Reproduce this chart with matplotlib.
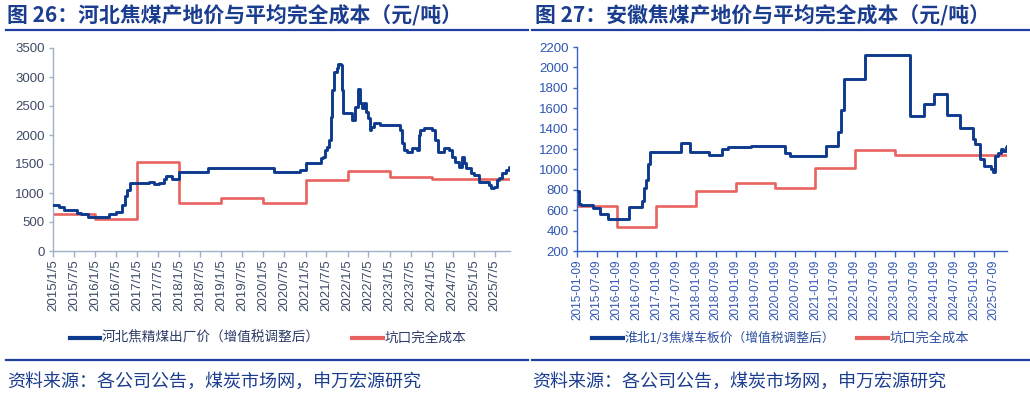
import matplotlib
matplotlib.use("Agg")
import matplotlib.pyplot as plt
from matplotlib.lines import Line2D
import pandas as pd

plt.rcParams['font.family'] = ['Noto Sans CJK SC', 'DejaVu Sans']

# ---------------- data ----------------
hb_price_dates = ['2015-01-05', '2015-03-01', '2015-04-10', '2015-08-05', '2015-09-05', '2015-11-01',
                  '2016-05-08', '2016-07-08', '2016-08-28', '2016-09-24', '2016-10-12', '2016-11-01',
                  '2017-04-20', '2017-06-01', '2017-07-15', '2017-08-28', '2017-09-15', '2017-10-30',
                  '2018-01-05', '2018-09-10', '2020-04-10', '2020-11-15', '2021-01-10', '2021-05-20',
                  '2021-06-05', '2021-06-20', '2021-07-12', '2021-07-30', '2021-08-10', '2021-08-22',
                  '2021-09-10', '2021-10-01', '2021-10-15', '2021-11-05', '2021-11-13', '2021-11-28',
                  '2022-02-10', '2022-03-10', '2022-04-08', '2022-04-22', '2022-05-12', '2022-05-30',
                  '2022-06-14', '2022-06-28', '2022-07-16', '2022-07-30', '2022-08-25', '2022-10-12',
                  '2023-04-05', '2023-04-20', '2023-05-05', '2023-06-03', '2023-07-16', '2023-08-30',
                  '2023-09-12', '2023-09-28', '2023-10-27', '2024-01-08', '2024-02-06', '2024-02-28',
                  '2024-04-20', '2024-06-03', '2024-07-01', '2024-07-27', '2024-08-28', '2024-09-20',
                  '2024-10-12', '2024-10-30', '2024-12-10', '2025-01-08', '2025-02-14', '2025-05-15',
                  '2025-05-30', '2025-06-28', '2025-07-20', '2025-08-11', '2025-09-09', '2025-10-08',
                  '2025-11-03', '2025-11-12']
hb_price_values = [800, 765, 710, 660, 630, 580,
                   640, 680, 800, 940, 1060, 1170,
                   1195, 1150, 1177, 1240, 1293, 1236,
                   1367, 1431, 1368, 1400, 1511, 1597,
                   1626, 1741, 1800, 1914, 2315, 2776,
                   3092, 3150, 3218, 3210, 2776, 2373,
                   2258, 2488, 2787, 2545, 2460, 2545,
                   2402, 2287, 2086, 2143, 2212, 2172,
                   2086, 1856, 1741, 1712, 1770, 1750,
                   1996, 2086, 2126, 2086, 1914, 1712,
                   1770, 1741, 1626, 1540, 1453, 1626,
                   1511, 1425, 1339, 1310, 1195, 1138,
                   1080, 1109, 1224, 1253, 1350, 1396,
                   1453, 1453]

hb_cost_dates = ['2015-01-05', '2016-01-05', '2017-01-05', '2018-01-05', '2019-01-05', '2020-01-05',
                 '2021-01-05', '2022-01-05', '2023-01-05', '2024-01-05', '2025-11-12']
hb_cost_values = [630, 555, 1540, 835, 920, 835, 1218, 1382, 1284, 1238, 1238]

ah_price_dates = ['2015-01-09', '2015-01-25', '2015-02-18', '2015-06-02', '2015-08-10', '2015-10-20',
                  '2016-05-01', '2016-08-28', '2016-09-12', '2016-10-01', '2016-10-23', '2016-11-07',
                  '2017-08-25', '2017-11-10', '2018-05-05', '2018-09-01', '2018-11-02', '2019-05-30',
                  '2020-04-08', '2020-05-22', '2021-04-20', '2021-08-08', '2021-08-30', '2021-10-05',
                  '2022-04-08', '2023-06-02', '2023-10-04', '2024-01-05', '2024-05-01', '2024-08-29',
                  '2025-01-01', '2025-01-16', '2025-03-04', '2025-04-09', '2025-06-17', '2025-07-02',
                  '2025-07-20', '2025-08-18', '2025-09-17', '2025-10-05', '2025-10-28', '2025-11-08']
ah_price_values = [790, 660, 650, 625, 560, 510,
                   630, 690, 820, 900, 1050, 1170,
                   1255, 1170, 1143, 1200, 1215, 1234,
                   1160, 1136, 1234, 1370, 1580, 1886,
                   2125, 1525, 1643, 1741, 1530, 1401,
                   1300, 1250, 1100, 1035, 1000, 970,
                   1130, 1160, 1200, 1180, 1215, 1225]

ah_cost_dates = ['2015-01-09', '2016-01-09', '2017-01-09', '2018-01-09', '2019-01-09', '2020-01-09',
                 '2021-01-09', '2022-01-09', '2023-01-09', '2025-11-08']
ah_cost_values = [640, 440, 640, 789, 864, 815, 1018, 1192, 1146, 1146]

tick_years = list(range(2015, 2026))
tick_months = [1, 7]
hb_ticks = [pd.Timestamp(y, m, 5) for y in tick_years for m in tick_months]
hb_tick_labels = [f"{d.year}/{d.month}/5" for d in hb_ticks]
ah_ticks = [pd.Timestamp(y, m, 9) for y in tick_years for m in tick_months]
ah_tick_labels = [d.strftime('%Y-%m-%d') for d in ah_ticks]

title_left = '图 26：河北焦煤产地价与平均完全成本（元/吨）'
title_right = '图 27：安徽焦煤产地价与平均完全成本（元/吨）'
source = '资料来源：各公司公告，煤炭市场网，申万宏源研究'
leg_left = ['河北焦精煤出厂价（增值税调整后）', '坑口完全成本']
leg_right = ['淮北1/3焦煤车板价（增值税调整后）', '坑口完全成本']

# ---------------- styling ----------------
W, H = 1030, 396
BLUE = '#0E3A8E'
RED = '#E8625F'
TITLE_C = '#1B3D8F'

fig = plt.figure(figsize=(W / 100, H / 100), dpi=100)
fig.patch.set_facecolor('white')


def fx(px):
    return px / W


def fy(py):
    return 1 - py / H


ax1 = fig.add_axes([fx(53), fy(251), fx(510 - 53), (251 - 48) / H])
ax2 = fig.add_axes([fx(577), fy(251), fx(1007 - 577), (251 - 47) / H])


def setup(ax, spine_c, lab_c, ticks, labels, ylim, ystep, xlim, xfs, yfs):
    for s in ['top', 'right']:
        ax.spines[s].set_visible(False)
    for s in ['left', 'bottom']:
        ax.spines[s].set_color(spine_c)
        ax.spines[s].set_linewidth(1.0)
    ax.set_ylim(*ylim)
    ax.set_yticks(range(ylim[0], ylim[1] + 1, ystep))
    ax.set_xlim(pd.Timestamp(xlim[0]), pd.Timestamp(xlim[1]))
    ax.set_xticks(ticks)
    ax.set_xticklabels(labels, rotation=90, fontsize=xfs, color=lab_c, family='Liberation Sans')
    for t in ax.get_yticklabels():
        t.set_fontsize(yfs)
        t.set_color(lab_c)
        t.set_family('Liberation Sans')
    ax.tick_params(axis='x', length=4, width=1, color=spine_c, pad=2)
    ax.tick_params(axis='y', length=3, width=1, color=spine_c, pad=3)
    ax.set_facecolor('white')


setup(ax1, '#9FB0CA', '#3E4A66', hb_ticks, hb_tick_labels, (0, 3500), 500,
      ('2015-01-05', '2025-11-14'), 9.5, 9.5)
setup(ax2, '#3A62C8', '#2F56B4', ah_ticks, ah_tick_labels, (200, 2200), 200,
      ('2015-01-09', '2025-11-08'), 8.5, 9.5)

ax1.step(pd.to_datetime(hb_price_dates), hb_price_values, where='post', color=BLUE, lw=2.1, zorder=3)
ax1.step(pd.to_datetime(hb_cost_dates), hb_cost_values, where='post', color=RED, lw=1.9, zorder=2)
ax2.step(pd.to_datetime(ah_price_dates), ah_price_values, where='post', color=BLUE, lw=2.1, zorder=3)
ax2.step(pd.to_datetime(ah_cost_dates), ah_cost_values, where='post', color=RED, lw=1.9, zorder=2)

# legend entries (line sample + label)
legend_items = [
    (70, 100, BLUE, leg_left[0], '#2E3C68', 9.8),
    (352, 383, RED, leg_left[1], '#2E3C68', 9.8),
    (592, 623, BLUE, leg_right[0], '#2C4FA0', 9.2),
    (857, 888, RED, leg_right[1], '#2C4FA0', 9.5),
]
for x0, x1, c, lab, tc, fs in legend_items:
    fig.add_artist(Line2D([fx(x0), fx(x1)], [fy(338), fy(338)], color=c, lw=3))
    fig.text(fx(x1 + 2), fy(338), lab, fontsize=fs, color=tc, va='center', ha='left')

# titles and rules
fig.text(fx(7), fy(16), title_left, fontsize=15, fontweight='bold', color=TITLE_C, va='center', ha='left')
fig.text(fx(535), fy(16), title_right, fontsize=15, fontweight='bold', color=TITLE_C, va='center', ha='left')
for (x0, x1) in [(6, 528), (532, 1030)]:
    fig.add_artist(Line2D([fx(x0), fx(x1)], [fy(30), fy(30)], color='#1F3F9E', lw=1.6))
    fig.add_artist(Line2D([fx(x0), fx(x1)], [fy(360), fy(360)], color='#1F3F9E', lw=1.6))

fig.text(fx(7), fy(382), source, fontsize=13, color=TITLE_C, va='center', ha='left')
fig.text(fx(532), fy(382), source, fontsize=13, color=TITLE_C, va='center', ha='left')

fig.savefig('out.png', dpi=100)
